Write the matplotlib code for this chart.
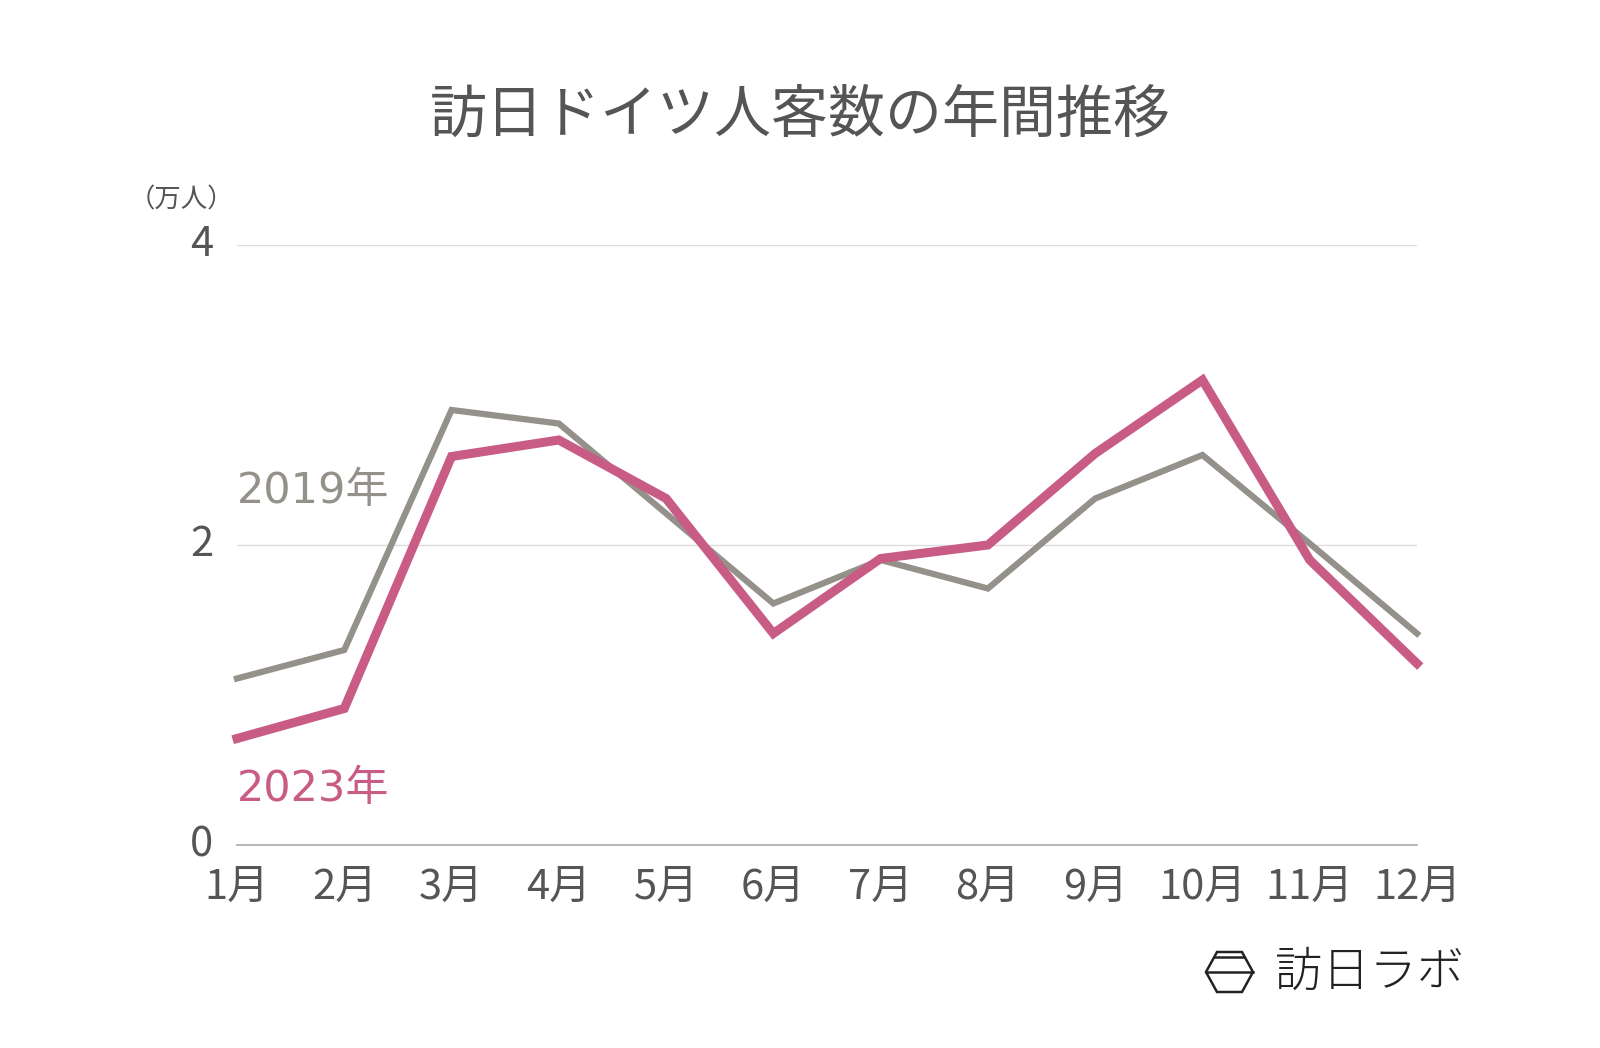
import numpy as np
import matplotlib.pyplot as plt
from matplotlib.patches import Polygon
from matplotlib.lines import Line2D

plt.rcParams['font.family'] = ['Noto Sans CJK JP', 'DejaVu Sans']

months = ["1月", "2月", "3月", "4月", "5月", "6月", "7月", "8月", "9月", "10月", "11月", "12月"]
visitors_2019 = [1.11, 1.30, 2.90, 2.81, 2.21, 1.61, 1.90, 1.71, 2.31, 2.60, 2.01, 1.41]
visitors_2023 = [0.71, 0.91, 2.59, 2.70, 2.31, 1.41, 1.91, 2.00, 2.61, 3.10, 1.90, 1.21]
yticks = [0, 2, 4]

gray = "#94918a"
pink = "#c85c85"
text_col = "#555555"

fig = plt.figure(figsize=(16, 10.48), dpi=100)
ax = fig.add_axes([237/1600, 1-845/1048, (1417-237)/1600, (845-245)/1048])

x = np.arange(len(months))
ax.plot(x, visitors_2019, color=gray, lw=4.5, solid_joinstyle="miter", clip_on=False, zorder=3)
ax.plot(x, visitors_2023, color=pink, lw=6.5, solid_joinstyle="miter", clip_on=False, zorder=4)

ax.set_xlim(0, len(months)-1)
ax.set_ylim(0, 4)
ax.set_xticks(x)
ax.set_xticklabels(months)
ax.set_yticks(yticks)
ax.set_yticklabels([str(v) for v in yticks])
ax.tick_params(axis="both", length=0, labelsize=30, colors=text_col)
ax.tick_params(axis="x", pad=16)
ax.tick_params(axis="y", pad=17)
for lab in ax.get_yticklabels():
    lab.set_verticalalignment("center")

for s in ["top", "right", "left"]:
    ax.spines[s].set_visible(False)
ax.spines["bottom"].set_color("#aaaaaa")
ax.spines["bottom"].set_linewidth(1.2)
for v in yticks[1:]:
    ax.axhline(v, color="#dddddd", lw=1, zorder=1)

# series labels
lab_font = ['DejaVu Sans', 'Noto Sans CJK JP']
ax.text(0, 2.36, "2019年", color=gray, fontsize=31, ha="left", va="center", family=lab_font)
ax.text(0, 0.37, "2023年", color=pink, fontsize=31, ha="left", va="center", family=lab_font)

fig.text(0.5, 1-116/1048, "訪日ドイツ人客数の年間推移", ha="center", va="center",
         fontsize=41, color=text_col)
fig.text(234/1600, 1-200/1048, "（万人）", ha="right", va="center", fontsize=19, color=text_col)

# logo
hx = np.array([1206, 1217, 1242, 1253, 1242, 1217]) / 1600
hy = 1 - np.array([972, 952, 952, 972, 992, 992]) / 1048
fig.patches.append(Polygon(np.column_stack([hx, hy]), closed=True, fill=False,
                           edgecolor="#222222", lw=1.8, transform=fig.transFigure))
fig.lines.append(Line2D([1206/1600, 1253/1600], [1-972/1048]*2, color="#222222", lw=1.8,
                        transform=fig.transFigure))
fig.lines.append(Line2D([1215/1600, 1244/1600], [1-957/1048]*2, color="#222222", lw=1.8,
                        transform=fig.transFigure))
fig.text(1275/1600, 1-972/1048, "訪日ラボ", ha="left", va="center", fontsize=34,
         color="#222222", fontweight="light")

fig.savefig("out.png", dpi=100, facecolor="white")
